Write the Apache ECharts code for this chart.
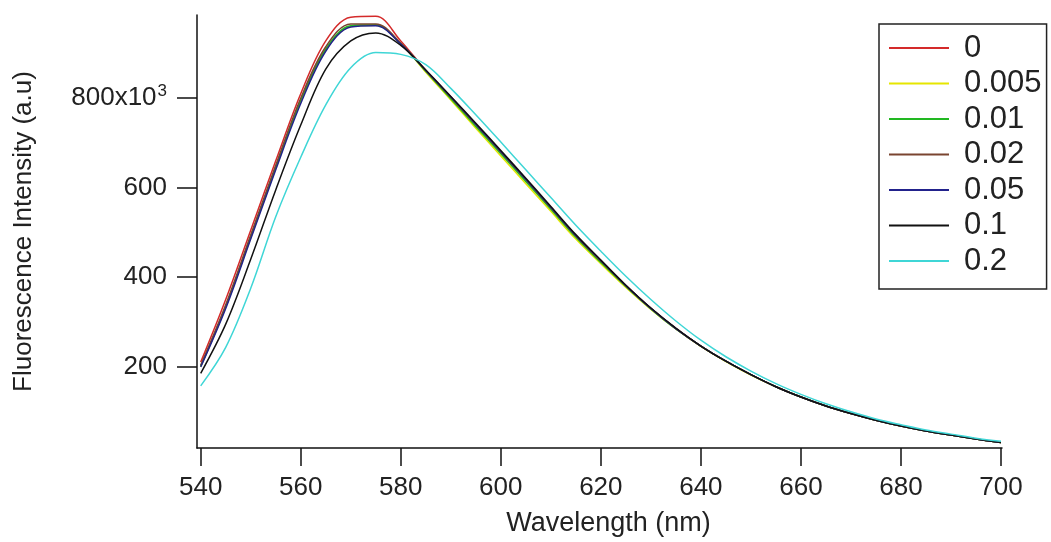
<!DOCTYPE html>
<html>
<head>
<meta charset="utf-8">
<script src="https://cdn.jsdelivr.net/npm/echarts@6/dist/echarts.min.js"></script>
<style>
html,body{margin:0;padding:0;background:#fff;}
#chart{width:1051px;height:542px;}
</style>
</head>
<body>
<div id="chart"></div>
<script>
// Wavelength (nm)
const wavelengths = [540,545,550,555,560,565,570,575,580,585,590,595,600,605,610,615,620,625,630,635,640,645,650,655,660,665,670,675,680,685,690,695,700];
// Fluorescence intensity in units of 10^3 (a.u)
const s0     = [210,350,505,660,810,928,981,983,928, 862,802,741,680,618,555,492,436,381,330,285,246,212,182,155,132,112,95,80,67,56,47,38,30];
const s0005  = [200,333,488,643,793,908,960,963,922, 858,796,733,671,609,547,485,430,377,328,284,245,211,181,155,132,112,95,80,67,56,47,38,30];
const s001   = [201,334,490,645,795,910,962,964,922, 860,799,737,676,614,552,489,433,379,329,284,246,212,182,155,132,112,95,80,67,56,47,38,30];
const s002   = [203,338,494,650,800,915,966,966,923, 862,802,741,680,618,555,492,436,381,330,285,246,212,182,155,132,112,95,80,67,56,47,38,30];
const s005   = [199,330,485,640,788,905,959,962,921, 862,803,742,681,619,556,493,437,381,330,285,246,212,182,155,132,112,95,80,67,56,47,38,30];
const s01    = [185,295,440,595,740,865,928,946,918, 863,804,744,683,621,558,495,438,382,331,286,246,212,182,155,132,112,95,80,67,56,47,38,30];
const s02    = [157,243,375,535,668,785,868,902,898, 875,822,763,702,640,578,516,458,402,350,302,259,222,190,162,138,117,99,83,70,58,49,40,33];

const seriesNames = ['0','0.005','0.01','0.02','0.05','0.1','0.2'];
const seriesData = [s0,s0005,s001,s002,s005,s01,s02];
const seriesColors = ['#d42a2a','#e6e600','#22b822','#7a4530','#22228c','#111111','#3fd6d6'];

const xTicks = [540,560,580,600,620,640,660,680,700];
const yTicks = [200,400,600,800];

const FONT = "'Liberation Sans', Arial, Helvetica, sans-serif";

const chart = echarts.init(document.getElementById('chart'), null, {renderer:'canvas'});
const option = {
  animation:false,
  backgroundColor:'#ffffff',
  grid:{left:197, right:49, top:15, bottom:94, containLabel:false},
  legend:{
    left:879, top:24, orient:'vertical',
    data:seriesNames,
    icon:'rect', itemWidth:60, itemHeight:2, itemGap:3.5,
    padding:[8,5,12,10],
    borderColor:'#222', borderWidth:1.5,
    selectedMode:false,
    textStyle:{fontFamily:FONT, fontSize:31, color:'#222', lineHeight:32, padding:[0,0,0,10]}
  },
  xAxis:{
    type:'value', min:539.26, max:700.2,
    name:'Wavelength (nm)', nameLocation:'middle', nameGap:62,
    nameTextStyle:{fontFamily:FONT, fontSize:27, color:'#222', padding:[0,0,0,18]},
    axisLine:{onZero:false, lineStyle:{color:'#111', width:1.5}},
    axisTick:{show:true, length:18, customValues:xTicks, lineStyle:{color:'#111', width:1.5}},
    axisLabel:{customValues:xTicks, margin:27, fontFamily:FONT, fontSize:26, color:'#222'},
    splitLine:{show:false}
  },
  yAxis:{
    type:'value', min:18, max:986,
    name:'Fluorescence Intensity (a.u)', nameLocation:'middle', nameGap:160, nameRotate:90,
    nameTextStyle:{fontFamily:FONT, fontSize:26, color:'#222'},
    axisLine:{show:true, onZero:false, lineStyle:{color:'#111', width:1.5}},
    axisTick:{show:true, length:20, customValues:yTicks, lineStyle:{color:'#111', width:1.5}},
    axisLabel:{
      customValues:yTicks, margin:30, fontFamily:FONT, fontSize:26, color:'#222',
      formatter:function(v){ return v===800 ? '{b|800x10}{sup|3}' : '{b|'+v+'}'; },
      rich:{
        b:{fontFamily:FONT, fontSize:26, color:'#222', lineHeight:30},
        sup:{fontFamily:FONT, fontSize:17, color:'#222', verticalAlign:'top', lineHeight:30, padding:[0,0,14,1]}
      }
    },
    splitLine:{show:false}
  },
  series: seriesNames.map(function(name,i){
    return {
      name:name, type:'line', showSymbol:false, smooth:0.35,
      data: wavelengths.map(function(w,j){ return [w, seriesData[i][j]]; }),
      lineStyle:{color:seriesColors[i], width:1.5},
      itemStyle:{color:seriesColors[i]},
      z: 2+i
    };
  })
};
chart.setOption(option);
</script>
</body>
</html>
